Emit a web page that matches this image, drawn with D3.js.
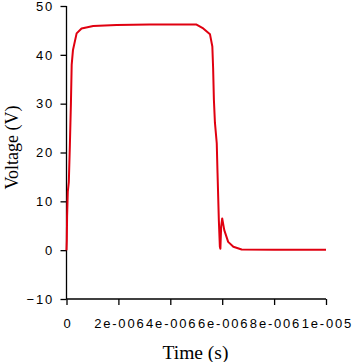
<!DOCTYPE html>
<html><head><meta charset="utf-8">
<script src="https://cdn.jsdelivr.net/npm/d3@7"></script>
<style>body{margin:0;background:#fff}svg{display:block}</style>
</head><body>
<script>
// time in microseconds (converted to seconds below), voltage in V
const timeUs = [0, 0.012, 0.023, 0.05, 0.09, 0.13, 0.17, 0.2, 0.25, 0.39, 0.58, 1.03, 1.93, 3.2, 4.5, 5.01, 5.27, 5.53, 5.62, 5.65, 5.68, 5.72, 5.79, 5.82, 5.87, 5.91, 5.93, 5.96, 6.0, 6.08, 6.23, 6.43, 6.75, 8.0, 10.0];
const voltage = [0, 2, 7, 12, 14, 21.5, 30, 38, 41, 44.4, 45.4, 45.9, 46.1, 46.2, 46.2, 46.2, 45.4, 44.2, 41.7, 37.3, 30.8, 26.1, 21.9, 15.8, 6.2, 0.7, 0.3, 4.8, 6.5, 4.1, 1.7, 0.7, 0.15, 0.1, 0.1];
const xTicks = [0, 2e-6, 4e-6, 6e-6, 8e-6, 1e-5];
const xTickLabels = ["0", "2e-006", "4e-006", "6e-006", "8e-006", "1e-005"];
const yTicks = [-10, 0, 10, 20, 30, 40, 50];

const W = 361, H = 362;
const svg = d3.select("body").append("svg").attr("width", W).attr("height", H);
const x = d3.scaleLinear().domain([0, 1e-5]).range([66.5, 326]);
const y = d3.scaleLinear().domain([-10, 50]).range([299, 6]);

const data = timeUs.map((t, i) => ({t: t * 1e-6, v: voltage[i]}));

const font = "'Liberation Sans', Arial, sans-serif";
const serif = "'Liberation Serif', 'Times New Roman', serif";
const yAxis = svg.append("g").attr("transform", "translate(66.5,0)")
  .call(d3.axisLeft(y).tickValues(yTicks).tickSize(6).tickPadding(6.5).tickFormat(d3.format("d")));
const xAxis = svg.append("g").attr("transform", "translate(0,299)")
  .call(d3.axisBottom(x).tickValues(xTicks).tickSize(6).tickPadding(14).tickFormat((d, i) => xTickLabels[i]));
[xAxis, yAxis].forEach(g => {
  g.select(".domain").attr("stroke", "#000").attr("stroke-width", 1.3);
  g.selectAll(".tick line").attr("stroke", "#000").attr("stroke-width", 1.3);
  g.selectAll(".tick text").attr("fill", "#000").style("font-family", font)
    .style("font-size", "13px").style("letter-spacing", "1.8px");
});
xAxis.selectAll(".tick text").attr("dx", "0.9");
yAxis.select(".domain").attr("d", "M0,6V299");
xAxis.select(".domain").attr("d", "M66.5,0H326");

svg.append("path").datum(data)
  .attr("fill", "none").attr("stroke", "#e00010").attr("stroke-width", 2)
  .attr("stroke-linejoin", "round")
  .attr("d", d3.line().x(d => x(d.t)).y(d => y(d.v)));

svg.append("text").attr("x", 195.5).attr("y", 358.5).attr("text-anchor", "middle")
  .style("font-family", serif).style("font-size", "19.5px")
  .text("Time (s)");
svg.append("text").attr("transform", "translate(18,147.5) rotate(-90)").attr("text-anchor", "middle")
  .style("font-family", serif).style("font-size", "18px")
  .text("Voltage (V)");
</script>
</body></html>
